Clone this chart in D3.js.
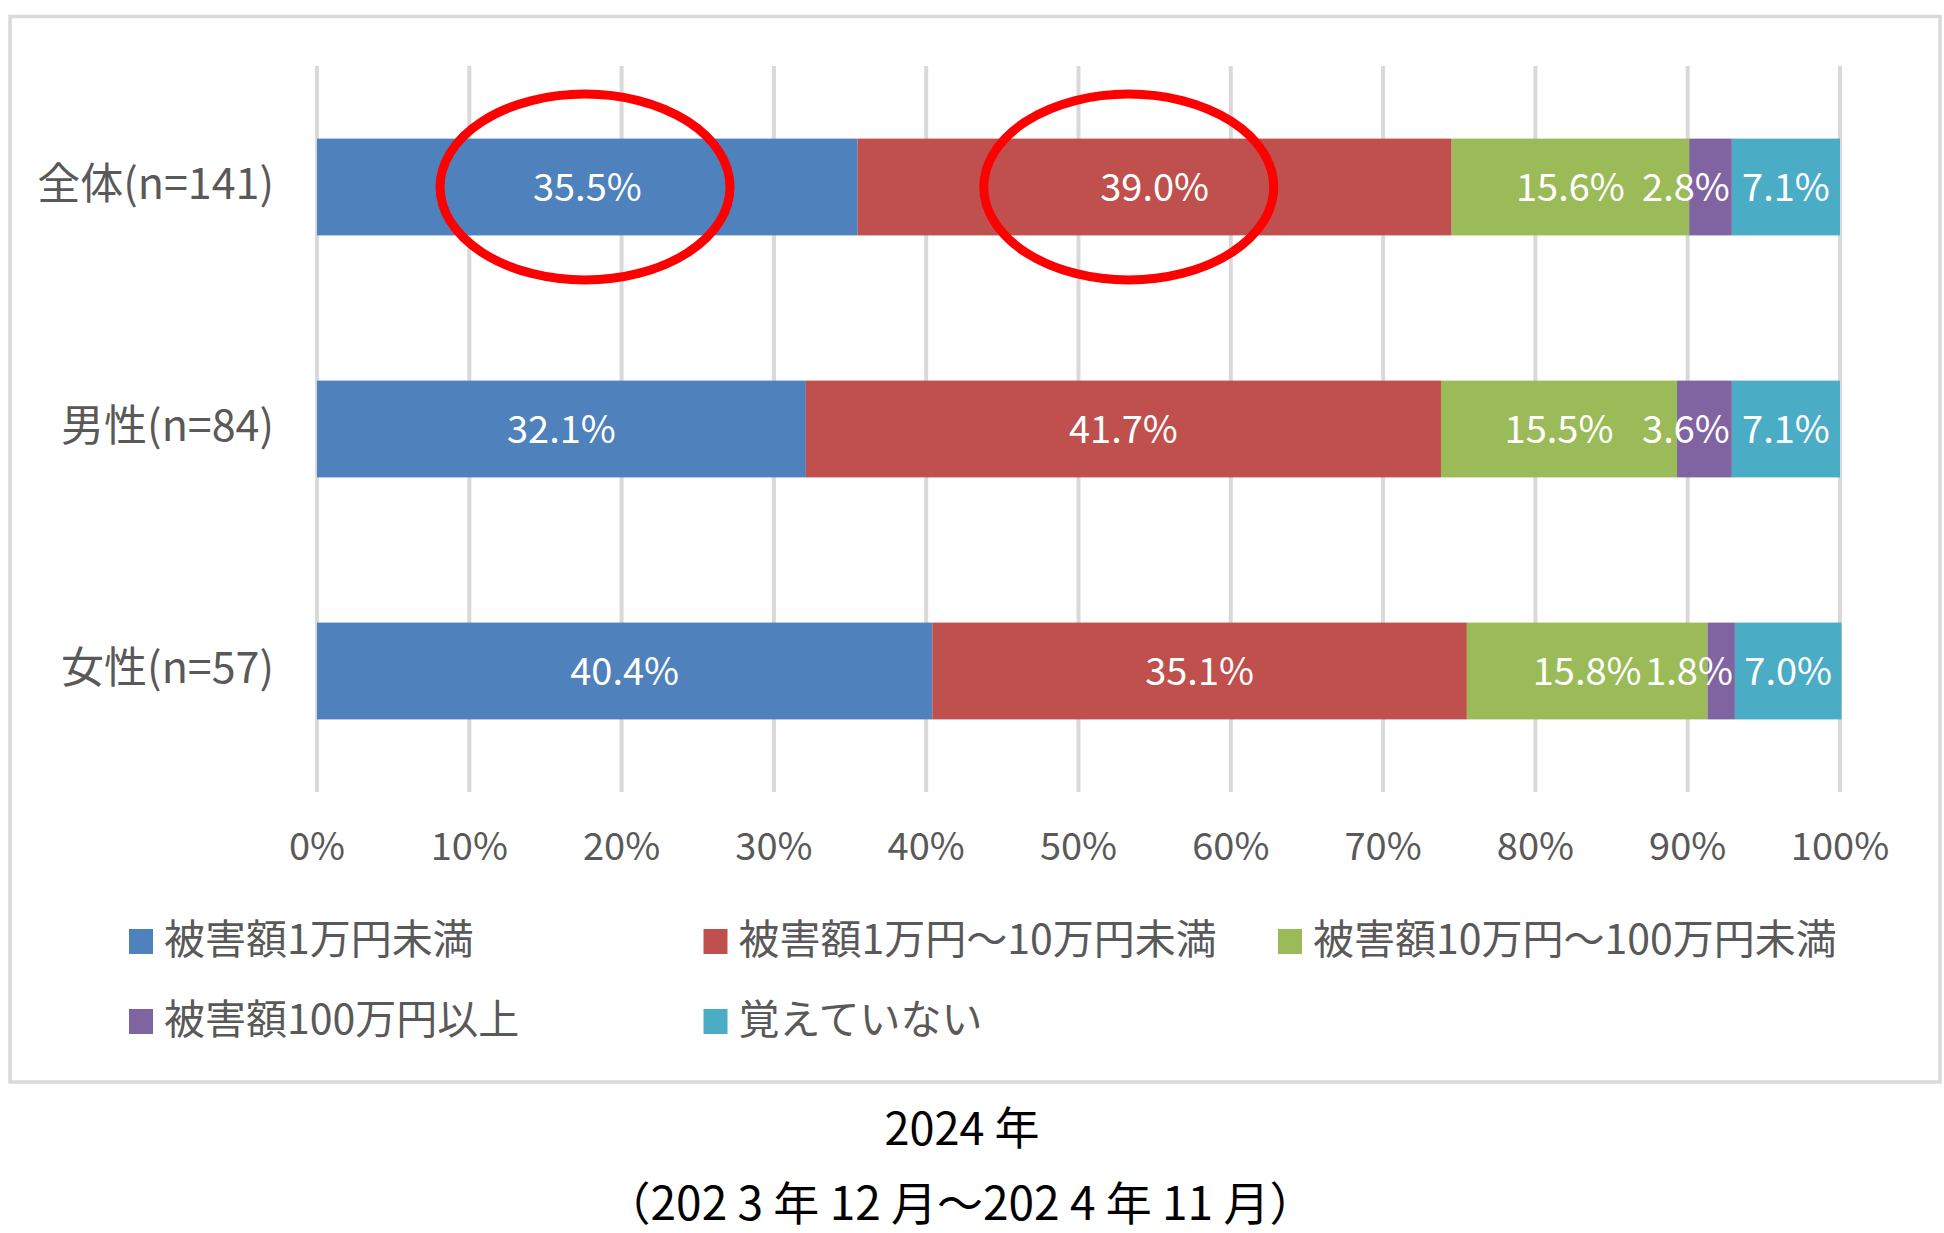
<!DOCTYPE html>
<html>
<head>
<meta charset="utf-8">
<script src="https://cdn.jsdelivr.net/npm/d3@7"></script>
<style>
  body { margin: 0; background: #fff; }
  text { font-family: "Noto Sans CJK JP", "Noto Sans", sans-serif; }
</style>
</head>
<body>
<div id="chart"></div>
<script>
let width = 1944;
let height = 1233;

// data
let categories = ["全体(n=141)", "男性(n=84)", "女性(n=57)"];
let seriesNames = ["被害額1万円未満", "被害額1万円～10万円未満", "被害額10万円～100万円未満", "被害額100万円以上", "覚えていない"];
let seriesColors = ["#4f81bd", "#c0504d", "#9bbb59", "#8064a2", "#4bacc6"];
let under1 = [35.5, 32.1, 40.4];
let from1to10 = [39.0, 41.7, 35.1];
let from10to100 = [15.6, 15.5, 15.8];
let over100 = [2.8, 3.6, 1.8];
let notSure = [7.1, 7.1, 7.0];
let xTicks = [0, 10, 20, 30, 40, 50, 60, 70, 80, 90, 100];
let captionLines = ["2024 年", "（202 3 年 12 月～202 4 年 11 月）"];
// red ellipses drawn on the chart (row, centre in %)
let circledRows = ["全体(n=141)", "全体(n=141)"];
let circledAt = [17.6, 53.3];

let series = [under1, from1to10, from10to100, over100, notSure];

let svg = d3.select("#chart").append("svg")
  .attr("width", width).attr("height", height);

// outer frame
svg.append("rect")
  .attr("x", 10).attr("y", 16.5)
  .attr("width", 1930).attr("height", 1065.5)
  .attr("fill", "none").attr("stroke", "#d9d9d9").attr("stroke-width", 3.5);

let xScale = d3.scaleLinear().domain([0, 100]).range([317, 1840]);
let yScale = d3.scaleBand().domain(categories).range([66, 792])
  .paddingInner(0.6).paddingOuter(0.3);

// grid lines
svg.append("g").selectAll("line").data(xTicks).enter().append("line")
  .attr("x1", d => xScale(d)).attr("x2", d => xScale(d))
  .attr("y1", 66).attr("y2", 792)
  .attr("stroke", "#d9d9d9").attr("stroke-width", 4);

// tick labels
svg.append("g").selectAll("text").data(xTicks).enter().append("text")
  .attr("x", d => xScale(d)).attr("y", 860)
  .attr("text-anchor", "middle")
  .attr("font-size", 38).attr("fill", "#595959")
  .text(d => d + "%");

// category labels
svg.append("g").selectAll("text").data(categories).enter().append("text")
  .attr("x", 274)
  .attr("y", d => yScale(d) + yScale.bandwidth() / 2 + 12)
  .attr("text-anchor", "end")
  .attr("font-size", 43).attr("fill", "#595959")
  .text(d => d);

// stacked segments
let segments = [];
categories.forEach(function (c, i) {
  let start = 0;
  series.forEach(function (s, k) {
    segments.push({ cat: c, k: k, x0: start, x1: start + s[i], v: s[i] });
    start += s[i];
  });
});

svg.append("g").selectAll("rect").data(segments).enter().append("rect")
  .attr("x", d => xScale(d.x0))
  .attr("y", d => yScale(d.cat))
  .attr("width", d => xScale(d.x1) - xScale(d.x0))
  .attr("height", yScale.bandwidth())
  .attr("fill", d => seriesColors[d.k]);

// value labels (the small purple ones are pushed to the left so they don't collide)
svg.append("g").selectAll("text").data(segments).enter().append("text")
  .attr("x", d => d.k === 3 ? xScale(d.x1) - 2 : xScale((d.x0 + d.x1) / 2))
  .attr("y", d => yScale(d.cat) + yScale.bandwidth() / 2 + 14)
  .attr("text-anchor", d => d.k === 3 ? "end" : "middle")
  .attr("font-size", 38).attr("fill", "#fff")
  .text(d => d.v.toFixed(1) + "%");

// red ellipses
svg.append("g").selectAll("ellipse").data(circledAt).enter().append("ellipse")
  .attr("cx", d => xScale(d))
  .attr("cy", (d, i) => yScale(circledRows[i]) + yScale.bandwidth() / 2)
  .attr("rx", 145).attr("ry", 93)
  .attr("fill", "none").attr("stroke", "#ff0000").attr("stroke-width", 9);

// legend
let legend = svg.append("g").selectAll("g").data(seriesNames).enter().append("g")
  .attr("transform", (d, i) => "translate(" + (129 + (i % 3) * 574.5) + "," + (929 + Math.floor(i / 3) * 80) + ")");
legend.append("rect")
  .attr("width", 24).attr("height", 25)
  .attr("fill", (d, i) => seriesColors[i]);
legend.append("text")
  .attr("x", 35).attr("y", 25)
  .attr("font-size", 41).attr("fill", "#595959")
  .text(d => d);

// caption under the frame
svg.append("text").attr("x", 962).attr("y", 1145)
  .attr("text-anchor", "middle").attr("font-size", 45).attr("fill", "#000")
  .text(captionLines[0]);
svg.append("text").attr("x", 960).attr("y", 1220)
  .attr("text-anchor", "middle").attr("font-size", 46).attr("fill", "#000")
  .text(captionLines[1]);
</script>
</body>
</html>
